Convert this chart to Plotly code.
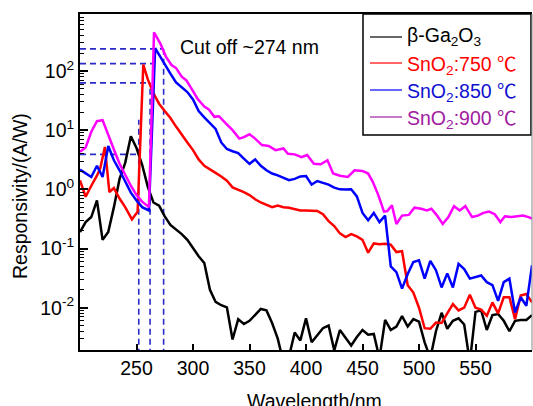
import plotly.graph_objects as go

# ---------------- data ----------------
ga2o3_x = [200, 205, 210, 215, 220, 225, 230, 235, 240, 245, 250, 255, 260, 265, 270, 275, 280, 285, 290, 295,
           300, 305, 310, 315, 320, 325, 330, 335, 340, 345, 350, 355, 360, 365, 370, 375, 380, 385, 390, 395,
           400, 405, 410, 415, 420, 425, 430, 435, 440, 445, 450, 455, 460, 465, 470, 475, 480, 485, 490, 495,
           500, 505, 510, 515, 520, 525, 530, 535, 540, 545, 550, 555, 560, 565, 570, 575, 580, 585, 590, 595, 600]
ga2o3_y = [0.19, 0.28, 0.34, 0.65, 0.14, 0.19, 0.5, 1.5, 2.8, 7.9, 5.0, 2.6, 1.1, 0.6, 0.53, 0.35, 0.25, 0.21, 0.175, 0.14,
           0.10, 0.074, 0.057, 0.02, 0.0125, 0.011, 0.0101, 0.0029, 0.0064, 0.0053, 0.006, 0.0075, 0.0095, 0.009, 0.0055, 0.003, 0.0012, 0.0015, 0.0038, 0.0028,
           0.0066, 0.0026, 0.0035, 0.0045, 0.005, 0.0019, 0.0042, 0.0031, 0.0023, 0.0032, 0.0042, 0.0035, 0.0036, 0.0014, 0.0062, 0.0042, 0.0048, 0.0072, 0.0048, 0.0064,
           0.0058, 0.0026, 0.0014, 0.004, 0.0082, 0.0044, 0.006, 0.0066, 0.0052, 0.0012, 0.0085, 0.009, 0.0042, 0.0075, 0.0078, 0.006, 0.004, 0.006, 0.0062, 0.0062, 0.0075]

sno2_750_x = [200, 205, 210, 215, 218, 222, 226, 230, 235, 240, 246, 251, 256, 260, 265, 270, 275, 280, 285, 290,
              295, 300, 305, 310, 315, 320, 325, 330, 335, 340, 345, 350, 355, 360, 365, 370, 375, 380, 385, 390,
              395, 400, 405, 410, 415, 420, 425, 430, 435, 440, 445, 450, 455, 460, 465, 470, 475, 480, 485, 490,
              495, 500, 505, 510, 515, 520, 525, 530, 535, 540, 545, 550, 555, 560, 565, 570, 575, 580, 585, 590, 595, 600]
sno2_750_y = [1.42, 0.75, 1.15, 1.7, 2.3, 5.2, 0.9, 1.05, 0.7, 0.5, 0.31, 0.42, 128, 72, 42, 28, 21, 16, 11.5, 8.3,
              6.2, 4.6, 3.2, 2.5, 2.15, 1.9, 1.65, 1.4, 1.08, 1.0, 0.9, 0.8, 0.68, 0.6, 0.54, 0.5, 0.53, 0.5, 0.49, 0.47,
              0.44, 0.44, 0.44, 0.43, 0.38, 0.29, 0.24, 0.18, 0.156, 0.175, 0.16, 0.14, 0.085, 0.122, 0.118, 0.12, 0.116, 0.087, 0.09, 0.024,
              0.018, 0.01, 0.0045, 0.0044, 0.0056, 0.0055, 0.008, 0.0115, 0.009, 0.01, 0.0165, 0.01, 0.0093, 0.0073, 0.0123, 0.008, 0.015, 0.015, 0.0064, 0.016, 0.017, 0.0123]

sno2_850_x = [200, 205, 210, 215, 220, 225, 230, 235, 240, 245, 250, 255, 261, 266.5, 271, 275, 280, 285, 290, 295,
              300, 305, 310, 315, 320, 325, 330, 335, 340, 345, 350, 355, 360, 365, 370, 375, 380, 385, 390, 395,
              400, 405, 410, 415, 420, 425, 430, 435, 440, 445, 450, 455, 460, 465, 470, 475, 480, 485, 490, 495,
              500, 505, 510, 515, 520, 525, 530, 535, 540, 545, 550, 555, 560, 565, 570, 575, 580, 585, 590, 595, 600]
sno2_850_y = [2.15, 1.85, 1.62, 2.5, 1.62, 5.4, 3.1, 2.1, 1.33, 0.88, 0.65, 0.5, 0.44, 242, 175, 128, 90, 64, 54, 44,
              33, 21, 16.5, 13, 10.5, 6.2, 4.8, 4.4, 4.1, 3.3, 2.7, 3.2, 2.5, 2.1, 1.85, 1.72, 1.55, 1.43, 1.5, 1.65,
              1.68, 1.2, 1.38, 1.28, 1.2, 1.07, 1.0, 0.99, 1.0, 0.76, 0.4, 0.3, 0.4, 0.28, 0.36, 0.05, 0.04, 0.021, 0.037, 0.059,
              0.063, 0.031, 0.062, 0.043, 0.022, 0.038, 0.022, 0.055, 0.045, 0.031, 0.033, 0.035, 0.027, 0.024, 0.013, 0.027, 0.031, 0.0083, 0.015, 0.0108, 0.052]

sno2_900_x = [200, 205, 210, 215, 220, 225, 230, 235, 240, 245, 250, 255, 261, 265.5, 271, 276, 281, 285, 290, 294,
              298, 304, 310, 314, 319, 323, 329, 335, 341, 345, 350, 355, 361, 367, 373, 380, 384, 390, 396, 401,
              407, 413, 419, 424, 430, 437, 443, 450, 455, 459, 464, 469, 472, 476, 480, 485, 491, 496, 502, 507,
              511, 516, 521, 526, 531, 536, 541, 547, 552, 557, 562, 567, 572, 576, 582, 586, 592, 597, 600]
sno2_900_y = [4.3, 5.1, 9.4, 14.2, 14.8, 8.0, 4.7, 2.7, 1.73, 1.15, 0.8, 0.62, 0.5, 450, 294, 175, 126, 112, 80, 70,
              53, 34, 25, 22.4, 16.8, 17.2, 13, 10, 7.2, 7.6, 8.5, 7.2, 5.6, 5.4, 4.6, 4.9, 4.0, 3.9, 3.5, 3.8,
              2.7, 2.65, 3.1, 1.85, 1.7, 1.62, 2.1, 2.05, 1.85, 1.35, 0.8, 0.42, 0.43, 0.54, 0.26, 0.36, 0.37, 0.49, 0.47, 0.44,
              0.47, 0.36, 0.26, 0.34, 0.52, 0.44, 0.52, 0.34, 0.36, 0.4, 0.42, 0.38, 0.28, 0.35, 0.34, 0.35, 0.36, 0.34, 0.32]

# guide lines: cut-off wavelengths and peak responsivity levels
cutoff_nm = [252, 262, 274]
cutoff_top = [15, 63, 236]
level_values = [236, 133, 63, 3.9]
level_ends = [274, 266, 262, 252]

x_ticks = [250, 300, 350, 400, 450, 500, 550]
y_ticks = [0.01, 0.1, 1, 10, 100]
y_tick_text = ["10<sup>-2</sup>", "10<sup>-1</sup>", "10<sup>0</sup>", "10<sup>1</sup>", "10<sup>2</sup>"]
legend_names = ["β-Ga<sub>2</sub>O<sub>3</sub>",
                "SnO<sub>2</sub>:750 <span style='font-family:Noto Sans CJK SC'>℃</span>",
                "SnO<sub>2</sub>:850 <span style='font-family:Noto Sans CJK SC'>℃</span>",
                "SnO<sub>2</sub>:900 <span style='font-family:Noto Sans CJK SC'>℃</span>"]

# ---------------- style ----------------
FONT = "Liberation Sans, Arial, sans-serif"
FS = 19.5
line_colors = ["#000000", "#ff0000", "#0000ff", "#ff00ff"]
legend_line_colors = ["#000000", "#ff0000", "#0000ff", "#a020a0"]
legend_text_colors = ["#000000", "#ff0000", "#1010d0", "#a020a0"]
DASH_COLOR = "#2a2ac8"
Y_BOTTOM = 0.0005
X_LEFT = 200

fig = go.Figure()

# dashed guides
for xv, yt in zip(cutoff_nm, cutoff_top):
    fig.add_trace(go.Scatter(x=[xv, xv], y=[Y_BOTTOM, yt], mode="lines",
                             line=dict(color=DASH_COLOR, width=1.6, dash="6px,4px"),
                             showlegend=False, hoverinfo="skip"))
for yv, xe in zip(level_values, level_ends):
    fig.add_trace(go.Scatter(x=[X_LEFT, xe], y=[yv, yv], mode="lines",
                             line=dict(color=DASH_COLOR, width=1.6, dash="6px,4px"),
                             showlegend=False, hoverinfo="skip"))

series = [(ga2o3_x, ga2o3_y), (sno2_750_x, sno2_750_y), (sno2_850_x, sno2_850_y), (sno2_900_x, sno2_900_y)]
for (xs, ys), c in zip(series, line_colors):
    fig.add_trace(go.Scatter(x=xs, y=ys, mode="lines", line=dict(color=c, width=2.5),
                             showlegend=False))

# plot area geometry in px (for paper conversion)
L, R, T, B = 80, 532, 14, 350
W, H = 533, 406
def px(xp):
    return (xp - L) / (R - L)
def py(yp):
    return (B - yp) / (B - T)

shapes = []
annotations = []
# legend box
shapes.append(dict(type="rect", xref="paper", yref="paper", x0=px(363), x1=px(531), y0=py(135), y1=py(14),
                   line=dict(color="black", width=1.5), fillcolor="white", layer="above"))
rows = [37, 63, 90, 117]
for name, lc, tc, r in zip(legend_names, legend_line_colors, legend_text_colors, rows):
    shapes.append(dict(type="line", xref="paper", yref="paper", x0=px(370), x1=px(402), y0=py(r), y1=py(r),
                       line=dict(color=lc, width=1.2), layer="above"))
    annotations.append(dict(xref="paper", yref="paper", x=px(405), y=py(r), xanchor="left", yanchor="middle",
                            text=name, showarrow=False, font=dict(family=FONT, size=FS, color=tc)))
# right frame line (thin grey)
shapes.append(dict(type="line", xref="paper", yref="paper", x0=1, x1=1, y0=0, y1=1,
                   line=dict(color="#888888", width=1), layer="above"))

annotations.append(dict(xref="paper", yref="paper", x=px(178), y=py(47), xanchor="left", yanchor="middle",
                        text="Cut off ~274 nm", showarrow=False, font=dict(family=FONT, size=FS, color="black")))
annotations.append(dict(xref="paper", yref="paper", x=px(314), y=py(401), xanchor="center", yanchor="middle",
                        text="Wavelength/nm", showarrow=False, font=dict(family=FONT, size=FS, color="black")))
annotations.append(dict(xref="paper", yref="paper", x=px(20), y=py(196), xanchor="center", yanchor="middle",
                        text="Responsivity/(A/W)", textangle=-90, showarrow=False,
                        font=dict(family=FONT, size=FS, color="black")))

fig.update_layout(
    width=W, height=H,
    margin=dict(l=L, r=W - R, t=T, b=H - B, pad=0, autoexpand=False),
    paper_bgcolor="white", plot_bgcolor="white",
    showlegend=False,
    font=dict(family=FONT, size=FS, color="black"),
    shapes=shapes, annotations=annotations,
    xaxis=dict(range=[200, 600], tickvals=x_ticks, ticks="inside", ticklen=6, tickwidth=1.5,
               tickcolor="black", showline=True, linecolor="black", linewidth=2, mirror=True,
               showgrid=False, zeroline=False, tickfont=dict(family=FONT, size=FS), automargin=False),
    yaxis=dict(type="log", range=[-2.715, 2.963], tickvals=y_ticks, ticktext=y_tick_text,
               ticks="inside", ticklen=8, tickwidth=1.5, tickcolor="black",
               minor=dict(ticks="inside", ticklen=4, tickwidth=1, tickcolor="black", dtick="D1", showgrid=False),
               showline=True, linecolor="black", linewidth=2, showgrid=False, zeroline=False,
               tickfont=dict(family=FONT, size=FS), automargin=False),
)

fig.write_html("out.html", config={"displayModeBar": False},
               post_script="document.body.style.margin='0';document.body.style.overflow='hidden';")
